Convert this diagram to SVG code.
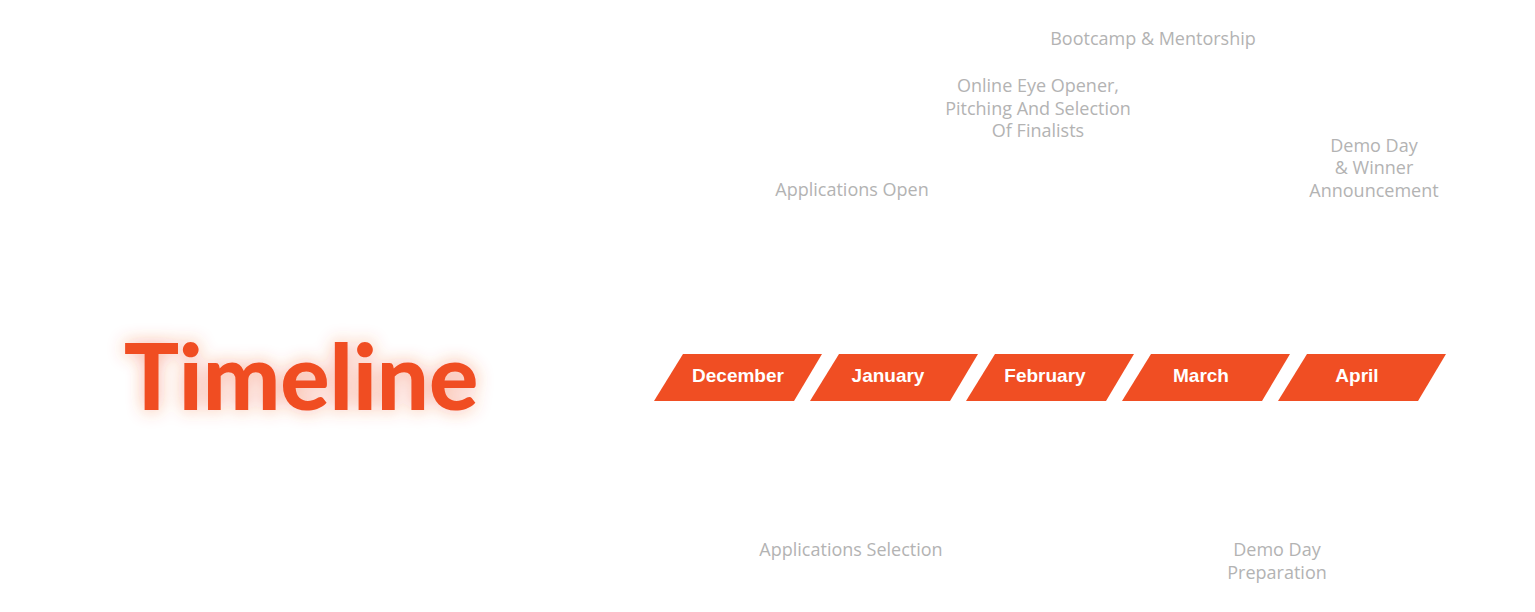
<svg xmlns="http://www.w3.org/2000/svg" width="1535" height="612" viewBox="0 0 1535 612">
<defs>
<style>
.bar{fill:#F04E23}
.m{font-family:"Liberation Sans",Arial,sans-serif;font-weight:bold;font-size:19px;fill:#fff;text-anchor:middle}
.l{font-family:"Open Sans","Noto Sans",sans-serif;font-size:18px;fill:#b3b3b3;text-anchor:middle}
</style>
<filter id="glow" x="-20%" y="-50%" width="140%" height="200%">
<feGaussianBlur in="SourceAlpha" stdDeviation="9" result="b"/>
<feFlood flood-color="#F04E23" flood-opacity="0.45"/>
<feComposite in2="b" operator="in"/>
<feMerge><feMergeNode/><feMergeNode in="SourceGraphic"/></feMerge>
</filter>
</defs>
<rect width="1535" height="612" fill="#fff"/>
<g id="title"><text x="301" y="410" text-anchor="middle" font-family="Lato,'Open Sans',sans-serif" font-weight="900" font-size="92" fill="#F04E23" filter="url(#glow)">Timeline</text></g>
<g id="connectors"></g>
<g id="dec"><polygon class="bar" points="683,354 822,354 794,401 654,401"/><text class="m" x="738" y="382">December</text></g>
<g id="jan"><polygon class="bar" points="839,354 978,354 950,401 810,401"/><text class="m" x="888" y="382">January</text></g>
<g id="feb"><polygon class="bar" points="995,354 1134,354 1106,401 966,401"/><text class="m" x="1045" y="382">February</text></g>
<g id="mar"><polygon class="bar" points="1151,354 1290,354 1262,401 1122,401"/><text class="m" x="1201" y="382">March</text></g>
<g id="apr"><polygon class="bar" points="1307,354 1446,354 1418,401 1278,401"/><text class="m" x="1357" y="382">April</text></g>
<g id="l1"><text class="l" x="852" y="196">Applications Open</text></g>
<g id="l2"><text class="l" x="1038" y="92">Online Eye Opener,</text><text class="l" x="1038" y="115">Pitching And Selection</text><text class="l" x="1038" y="137">Of Finalists</text></g>
<g id="l3"><text class="l" x="1153" y="45">Bootcamp &amp; Mentorship</text></g>
<g id="l4"><text class="l" x="1374" y="152">Demo Day</text><text class="l" x="1374" y="174">&amp; Winner</text><text class="l" x="1374" y="197">Announcement</text></g>
<g id="l5"><text class="l" x="851" y="556">Applications Selection</text></g>
<g id="l6"><text class="l" x="1277" y="556">Demo Day</text><text class="l" x="1277" y="579">Preparation</text></g>
</svg>
